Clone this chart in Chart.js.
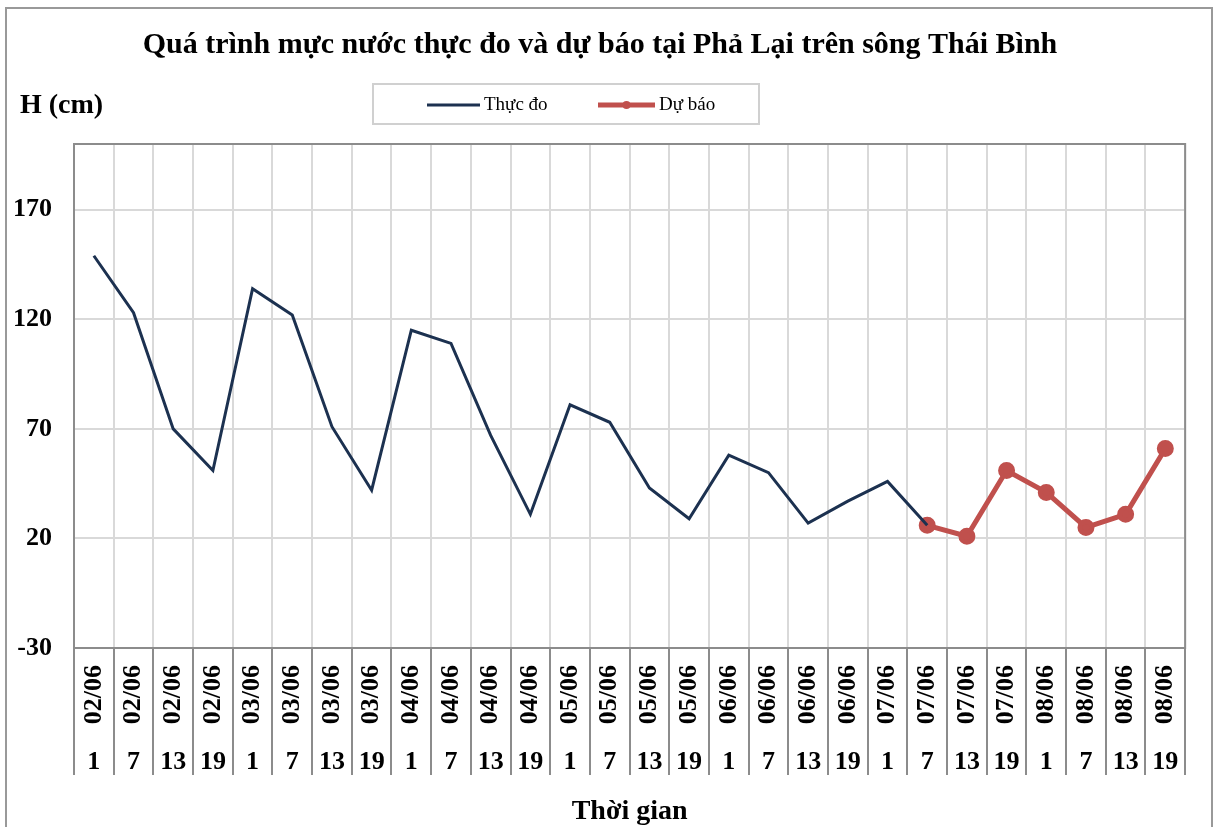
<!DOCTYPE html>
<html>
<head>
<meta charset="utf-8">
<script src="https://cdn.jsdelivr.net/npm/chart.js@4.4.1/dist/chart.umd.min.js"></script>
<style>
    html, body { margin: 0; padding: 0; background: #ffffff; }
    #wrap { width: 1214px; height: 827px; }
</style>
</head>
<body>
<div id="wrap"><canvas id="levelChart" width="1214" height="827"></canvas></div>
<script>
// data
var days = ['02/06', '03/06', '04/06', '05/06', '06/06', '07/06', '08/06'];
var hours = ['1', '7', '13', '19'];
var yTicks = [-30, 20, 70, 120, 170, 200];

// water level (cm), thuc do stops at 07/06 7h, du bao starts there
var measured = [149, 123, 70, 51, 134, 122, 71, 42, 115, 109, 67, 31, 81, 73, 43, 29, 58, 50, 27, 37, 46, 26];
var forecast = [26, 21, 51, 41, 25, 31, 61];

var dateLabels = [];
var hourLabels = [];
days.forEach(d => {
    hours.forEach(h => {
        dateLabels.push(d);
        hourLabels.push(h);
    });
});

var measuredData = dateLabels.map((d, i) => i < measured.length ? measured[i] : null);
var forecastStart = measured.length - 1;
var forecastData = dateLabels.map((d, i) => i >= forecastStart ? forecast[i - forecastStart] : null);

var serif = '"Liberation Serif", "Times New Roman", serif';
var gridColor = '#d9d9d9';
var axisColor = '#8c8c8c';

// frame, plot box, separators under the axis, the legend box and "H (cm)"
var decorPlugin = {
    id: 'decor',
    beforeDraw(chart) {
        var ctx = chart.ctx;
        ctx.save();
        ctx.fillStyle = '#ffffff';
        ctx.fillRect(0, 0, chart.width, chart.height);
        ctx.strokeStyle = '#999999';
        ctx.lineWidth = 2;
        ctx.strokeRect(6, 8, 1206, 840);
        ctx.restore();
    },
    beforeDatasetsDraw(chart) {
        var ctx = chart.ctx;
        var area = chart.chartArea;
        var xs = chart.scales.x;
        var x2 = chart.scales.x2;
        ctx.save();
        ctx.strokeStyle = axisColor;
        ctx.lineWidth = 2;
        ctx.strokeRect(area.left, area.top, area.right - area.left, area.bottom - area.top);
        ctx.beginPath();
        for (var i = 0; i <= dateLabels.length; i++) {
            var px = Math.round(xs.getPixelForValue(i - 0.5));
            ctx.moveTo(px, area.bottom);
            ctx.lineTo(px, x2.top + 37);
        }
        ctx.stroke();
        ctx.restore();
    },
    afterDraw(chart) {
        var ctx = chart.ctx;
        var ds = chart.data.datasets;
        ctx.save();
        ctx.fillStyle = '#000000';
        ctx.font = 'bold 28px ' + serif;
        ctx.textBaseline = 'middle';
        ctx.textAlign = 'left';
        ctx.fillText('H (cm)', 20, 106);

        ctx.strokeStyle = '#d0d0d0';
        ctx.lineWidth = 2;
        ctx.strokeRect(373, 84, 386, 40);

        var items = [{x: 427, w: 53}, {x: 598, w: 57}];
        ctx.font = '19px ' + serif;
        items.forEach((it, k) => {
            var d = ds[k];
            ctx.strokeStyle = d.borderColor;
            ctx.lineWidth = d.borderWidth;
            ctx.beginPath();
            ctx.moveTo(it.x, 105);
            ctx.lineTo(it.x + it.w, 105);
            ctx.stroke();
            if (d.pointRadius > 0) {
                ctx.fillStyle = d.borderColor;
                ctx.beginPath();
                ctx.arc(it.x + it.w / 2, 105, 4, 0, Math.PI * 2);
                ctx.fill();
            }
            ctx.fillStyle = '#000000';
            ctx.fillText(d.label, it.x + it.w + 4, 105);
        });
        ctx.restore();
    }
};

var ctx = document.getElementById('levelChart').getContext('2d');
var levelChart = new Chart(ctx, {
    type: 'line',
    data: {
        labels: dateLabels,
        datasets: [{
            label: 'Thực đo',
            data: measuredData,
            borderColor: '#1c3150',
            backgroundColor: '#1c3150',
            borderWidth: 3,
            pointRadius: 0,
            tension: 0,
            spanGaps: false
        },
        {
            label: 'Dự báo',
            data: forecastData,
            borderColor: '#c0504d',
            backgroundColor: '#c0504d',
            borderWidth: 5,
            pointRadius: 6,
            pointHoverRadius: 6,
            pointBackgroundColor: '#c0504d',
            pointBorderColor: '#c0504d',
            tension: 0
        }]
    },
    options: {
        responsive: false,
        animation: false,
        layout: {
            padding: { top: 0, right: 27, bottom: 0, left: 13 }
        },
        plugins: {
            legend: { display: false },
            tooltip: { enabled: false },
            title: {
                display: true,
                text: 'Quá trình mực nước thực đo và dự báo tại Phả Lại trên sông Thái Bình',
                color: '#000000',
                font: { family: serif, size: 30, weight: 'bold' },
                padding: { top: 27, bottom: 81 }
            }
        },
        scales: {
            x: {
                type: 'category',
                offset: true,
                weight: 0,
                grid: {
                    offset: true,
                    color: gridColor,
                    lineWidth: 2,
                    drawTicks: false
                },
                border: { display: false },
                ticks: {
                    autoSkip: false,
                    maxRotation: 90,
                    minRotation: 90,
                    padding: 17,
                    color: '#000000',
                    font: { family: serif, size: 26, weight: 'bold' }
                },
                afterFit(scale) {
                    scale.height = 90;
                }
            },
            x2: {
                type: 'category',
                position: 'bottom',
                labels: hourLabels,
                offset: true,
                weight: 1,
                grid: { display: false, drawTicks: false },
                border: { display: false },
                ticks: {
                    autoSkip: false,
                    maxRotation: 0,
                    minRotation: 0,
                    padding: 9,
                    color: '#000000',
                    font: { family: serif, size: 26, weight: 'bold' }
                },
                title: {
                    display: true,
                    text: 'Thời gian',
                    color: '#000000',
                    font: { family: serif, size: 28, weight: 'bold' },
                    padding: { top: 0, bottom: -2 }
                },
                afterFit(scale) {
                    scale.height = 89;
                }
            },
            y: {
                min: -30,
                max: 200,
                grid: {
                    color: gridColor,
                    lineWidth: 2,
                    drawTicks: false
                },
                border: { display: true, color: axisColor, width: 2 },
                ticks: {
                    padding: 22,
                    color: '#000000',
                    font: { family: serif, size: 26, weight: 'bold' },
                    callback: function (value) {
                        return value === 200 ? '' : value;
                    }
                },
                afterBuildTicks(scale) {
                    scale.ticks = yTicks.map(v => ({ value: v }));
                },
                afterFit(scale) {
                    scale.width = 61;
                }
            }
        }
    },
    plugins: [decorPlugin]
});
</script>
</body>
</html>
